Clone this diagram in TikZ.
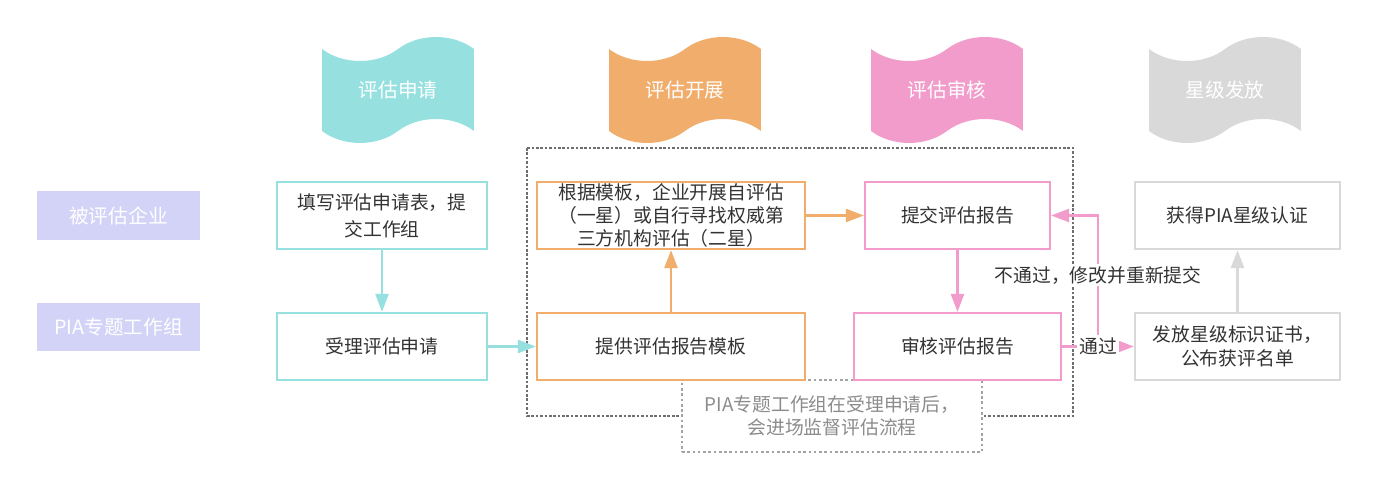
\documentclass[tikz,border=0pt]{standalone}
\usepackage{fontspec}
\setmainfont{Noto Sans CJK SC}
\usetikzlibrary{arrows.meta,shapes.symbols}

\begin{document}
\begin{tikzpicture}[x=0.02cm, y=-0.02cm]
  % Colors
  \definecolor{tealcol}{RGB}{150,224,224}
  \definecolor{orgcol}{RGB}{240,173,107}
  \definecolor{pinkcol}{RGB}{241,156,203}
  \definecolor{greycol}{RGB}{217,217,217}
  \definecolor{lanecol}{RGB}{211,211,248}
  \definecolor{txtcol}{RGB}{51,51,51}
  \definecolor{notecol}{RGB}{140,140,140}
  \definecolor{framecol}{RGB}{110,110,110}
  %
  \def\fs{\fontsize{10.7pt}{13.3pt}\selectfont}
  %
  \tikzset{
    lane/.style={fill=lanecol, minimum width=3.26cm, minimum height=0.98cm,
                 text=white, font=\fontsize{11.2pt}{13pt}\selectfont},
    banner/.style={tape, fill=#1, minimum width=3.04cm, minimum height=2.12cm,
                   tape bend height=0.48cm, inner sep=0pt, text=white,
                   font=\fontsize{11.2pt}{13pt}\selectfont},
    sbox/.style={draw=#1, line width=1.25pt, fill=white, minimum height=1.34cm,
                 align=center, text=txtcol, font=\fs, inner xsep=2pt, inner ysep=0pt},
    flow/.style={-{Triangle[length=0.36cm, width=0.26cm]}, line width=1.4pt, draw=#1},
    frame/.style={draw=framecol, line width=1pt, dash pattern=on 1.5pt off 1pt},
    note/.style={draw=notecol!80, line width=1pt, dash pattern=on 1.5pt off 1.5pt,
                 fill=white, minimum width=6cm, minimum height=1.44cm,
                 align=center, text=notecol, font=\fs},
    lbl/.style={fill=white, text=txtcol, font=\fs, inner sep=1pt},
  }
  %
  \useasboundingbox (0,0) rectangle (1377,489);
  %
  % === STAGE BANNERS ===
  \foreach \nm/\x/\col/\txt in {ban1/398/tealcol/评估申请, ban2/685/orgcol/评估开展,
                                ban3/947/pinkcol/评估审核, ban4/1225/greycol/星级发放} {
    \node[banner=\col] (\nm) at (\x, 90) {\txt};
  }
  %
  % === LANE LABELS ===
  \node[lane] (ent) at (118.5, 215.5) {被评估企业};
  \node[lane] (grp) at (118.5, 327) {PIA专题工作组};
  %
  % === DOTTED FRAME + SUPERVISION NOTE ===
  \draw[frame] (527,148) rectangle (1073,416);
  \node[note] (watch) at (832,416) {PIA专题工作组在受理申请后，\\会进场监督评估流程};
  %
  % === STEP BOXES ===
  \node[sbox=tealcol, minimum width=4.2cm] (apply) at (382,215.5) {填写评估申请表，提\\[2pt]交工作组};
  \node[sbox=tealcol, minimum width=4.2cm] (accept) at (382,346.5) {受理评估申请};
  \node[sbox=orgcol, minimum width=5.36cm] (selfeval) at (671,215.5)
    {根据模板，企业开展自评估\\（一星）或自行寻找权威第\\三方机构评估（二星）};
  \node[sbox=orgcol, minimum width=5.36cm] (template) at (671,346.5) {提供评估报告模板};
  \node[sbox=pinkcol, minimum width=3.7cm] (submit) at (957.5,215.5) {提交评估报告};
  \node[sbox=pinkcol, minimum width=4.14cm] (review) at (957.5,346.5) {审核评估报告};
  \node[sbox=greycol, minimum width=4.1cm] (cert) at (1237.5,215.5) {获得PIA星级认证};
  \node[sbox=greycol, minimum width=4.1cm] (issue) at (1237.5,346.5) {发放星级标识证书，\\公布获评名单};
  %
  % === CONNECTORS ===
  \draw[flow=tealcol] (apply) -- (accept);
  \draw[flow=tealcol] (accept) -- (template);
  \draw[flow=orgcol] (template) -- (selfeval);
  \draw[flow=orgcol] (selfeval) -- (submit);
  \draw[flow=pinkcol] (submit) -- (review);
  \draw[flow=pinkcol] (review) -- node[lbl] (pass) {通过} (issue);
  % rejected: back to submission
  \draw[flow=pinkcol] (pass.north) |- node[lbl, pos=0.25] (reject) {不通过，修改并重新提交} (submit);
  \draw[flow=greycol] (issue) -- (cert);
  %
\end{tikzpicture}
\end{document}
